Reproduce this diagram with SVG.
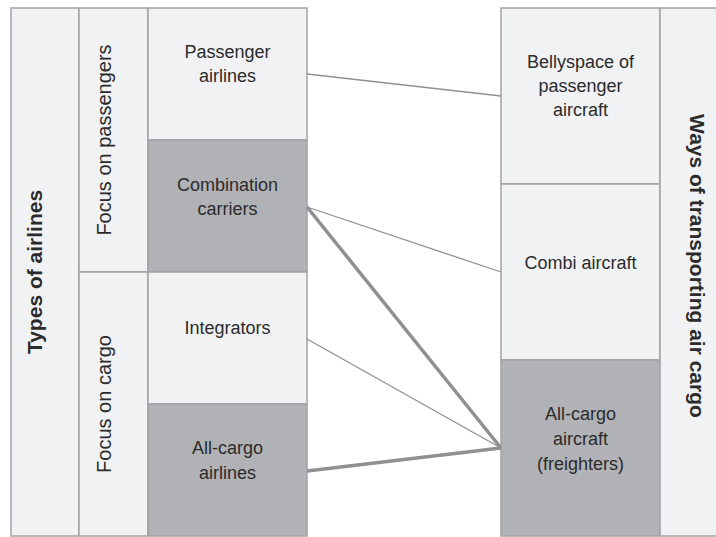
<svg xmlns="http://www.w3.org/2000/svg" width="716" height="537" viewBox="0 0 716 537">
<style>
.box{stroke:#a3a3a5;stroke-width:1.5}
.light{fill:#f1f2f4}
.dark{fill:#b1b2b5}
.t{font-family:"Liberation Sans",Arial,sans-serif;font-size:18px;fill:#2b2b2b;text-anchor:middle}
.v{font-size:20px}
.b{font-family:"Liberation Sans",Arial,sans-serif;font-weight:bold;font-size:21px;fill:#2b2b2b;text-anchor:middle}
.thin{stroke:#909092;stroke-width:1.3;fill:none}
.thick{stroke:#909092;stroke-width:3.5;fill:none}
</style>
<rect width="716" height="537" fill="#ffffff"/>
<g id="types-of-airlines">
<rect class="box light" x="11" y="8" width="68" height="528"/>
<text class="b" transform="translate(42,272) rotate(-90)">Types of airlines</text>
</g>
<g id="focus-on-passengers">
<rect class="box light" x="79" y="8" width="69" height="264"/>
<text class="t v" transform="translate(111,140) rotate(-90)">Focus on passengers</text>
</g>
<g id="focus-on-cargo">
<rect class="box light" x="79" y="272" width="69" height="264"/>
<text class="t v" transform="translate(111,404) rotate(-90)">Focus on cargo</text>
</g>
<g id="passenger-airlines">
<rect class="box light" x="148" y="8" width="159" height="132"/>
<text class="t" x="227.5" y="58">Passenger</text>
<text class="t" x="227.5" y="82">airlines</text>
</g>
<g id="combination-carriers">
<rect class="box dark" x="148" y="140" width="159" height="132"/>
<text class="t" x="227.5" y="191">Combination</text>
<text class="t" x="227.5" y="215">carriers</text>
</g>
<g id="integrators">
<rect class="box light" x="148" y="272" width="159" height="132"/>
<text class="t" x="227.5" y="334">Integrators</text>
</g>
<g id="all-cargo-airlines">
<rect class="box dark" x="148" y="404" width="159" height="132"/>
<text class="t" x="227.5" y="454">All-cargo</text>
<text class="t" x="227.5" y="479">airlines</text>
</g>
<g id="bellyspace">
<rect class="box light" x="501" y="8" width="159" height="176"/>
<text class="t" x="580.5" y="68">Bellyspace of</text>
<text class="t" x="580.5" y="92">passenger</text>
<text class="t" x="580.5" y="116">aircraft</text>
</g>
<g id="combi-aircraft">
<rect class="box light" x="501" y="184" width="159" height="176"/>
<text class="t" x="580.5" y="269">Combi aircraft</text>
</g>
<g id="all-cargo-aircraft">
<rect class="box dark" x="501" y="360" width="159" height="176"/>
<text class="t" x="580.5" y="420">All-cargo</text>
<text class="t" x="580.5" y="445">aircraft</text>
<text class="t" x="580.5" y="470">(freighters)</text>
</g>
<g id="ways-of-transporting">
<rect class="box light" x="660" y="8" width="70" height="528"/>
<text class="b" transform="translate(690,266) rotate(90)">Ways of transporting air cargo</text>
</g>
<g id="connectors">
<line class="thin" x1="307" y1="74" x2="501" y2="96"/>
<line class="thin" x1="307" y1="207" x2="501" y2="272"/>
<line class="thick" x1="307" y1="207" x2="501" y2="448"/>
<line class="thin" x1="307" y1="339" x2="501" y2="448"/>
<line class="thick" x1="307" y1="471" x2="501" y2="448"/>
</g>
</svg>
